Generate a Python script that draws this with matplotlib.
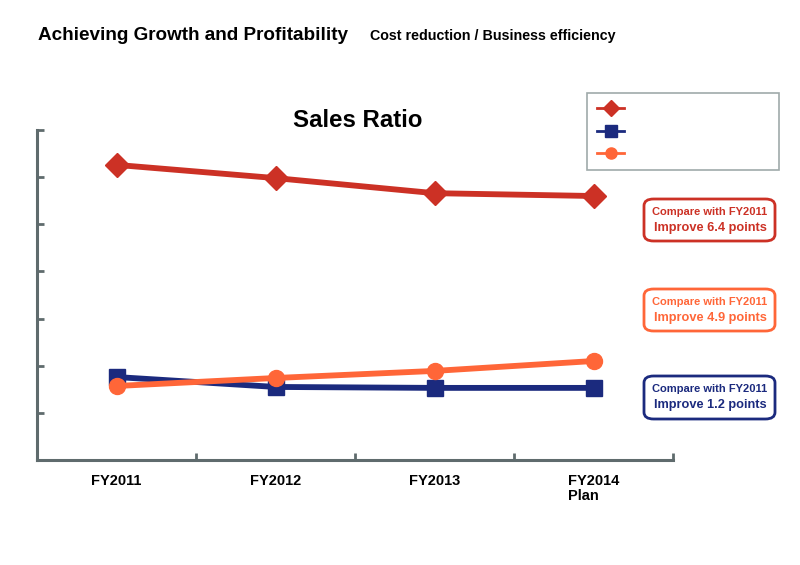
import matplotlib.pyplot as plt
from matplotlib.lines import Line2D
from matplotlib.patches import Rectangle, FancyBboxPatch

plt.rcParams['font.family'] = ['Liberation Sans', 'DejaVu Sans']

# Данные
years = ['FY2011', 'FY2012', 'FY2013', 'FY2014\nPlan']
red_vals = [6.26, 5.98, 5.66, 5.60]
blue_vals = [1.76, 1.55, 1.53, 1.53]
orange_vals = [1.57, 1.74, 1.89, 2.10]
notes = ['Improve 6.4 points', 'Improve 4.9 points', 'Improve 1.2 points']

RED = '#CC3125'
BLUE = '#1B2A7E'
ORANGE = '#FF6638'
GRAY = '#5F6B6D'

fig = plt.figure(figsize=(8, 5.65), dpi=100)
ax = fig.add_axes([0.04625, 0.1858, 0.795, 0.5841])

xs = [i + 0.5 for i in range(len(years))]
ax.plot(xs, red_vals, color=RED, lw=4.2, marker='D', ms=12.5, clip_on=False)
ax.plot(xs, blue_vals, color=BLUE, lw=4.2, marker='s', ms=11.5, clip_on=False)
ax.plot(xs, orange_vals, color=ORANGE, lw=4.2, marker='o', ms=11.5, clip_on=False)

ax.set_xlim(0, 4)
ax.set_ylim(0, 7)
ax.set_xticks(range(5))
ax.set_xticklabels([])
ax.set_xticks(xs, minor=True)
ax.set_xticklabels(years, minor=True, fontsize=10.5, fontweight='bold',
                   multialignment='left', linespacing=1.1)
ax.set_yticks(range(8))
ax.set_yticklabels([])
ax.tick_params(axis='both', which='major', direction='in', length=5, width=2, color=GRAY)
ax.tick_params(axis='x', which='minor', length=0, pad=10)
for s in ['top', 'right']:
    ax.spines[s].set_visible(False)
for s in ['left', 'bottom']:
    ax.spines[s].set_color(GRAY)
    ax.spines[s].set_linewidth(2.2)

# Заголовки
fig.text(0.048, 0.938, 'Achieving Growth and Profitability', fontsize=13.6, fontweight='bold', va='center')
fig.text(0.463, 0.936, 'Cost reduction / Business efficiency', fontsize=10.3, fontweight='bold', va='center')
fig.text(0.4475, 0.787, 'Sales Ratio', fontsize=17.3, fontweight='bold', ha='center', va='center')

# Легенда без подписей
fig.add_artist(Rectangle((587 / 800, 1 - 170 / 565), 192 / 800, 77 / 565,
                         transform=fig.transFigure, fill=False, ec='#A0AAAA', lw=1.2))
for yy, c, m in [(108, RED, 'D'), (131, BLUE, 's'), (153, ORANGE, 'o')]:
    fig.add_artist(Line2D([597 / 800, 624 / 800], [1 - yy / 565] * 2, transform=fig.transFigure,
                          color=c, lw=2, marker=None))
    fig.add_artist(Line2D([611 / 800], [1 - yy / 565], transform=fig.transFigure,
                          color=c, marker=m, ms=8 if m != 'D' else 8.5, ls='none'))

# Подписи в рамках
for (top, bot), c, note in zip([(199, 241), (289, 331), (376, 419)], [RED, ORANGE, BLUE], notes):
    fig.add_artist(FancyBboxPatch((644 / 800, 1 - bot / 565), 131 / 800, (bot - top) / 565,
                                  boxstyle='round,pad=0,rounding_size=0.012', transform=fig.transFigure,
                                  fill=False, ec=c, lw=2))
    fig.text(710 / 800, 1 - (top + 13) / 565, 'Compare with FY2011', color=c, fontsize=8,
             fontweight='bold', ha='center', va='center')
    fig.text(710 / 800, 1 - (top + 29) / 565, note, color=c, fontsize=9.2,
             fontweight='bold', ha='center', va='center')

plt.savefig('out.png')
